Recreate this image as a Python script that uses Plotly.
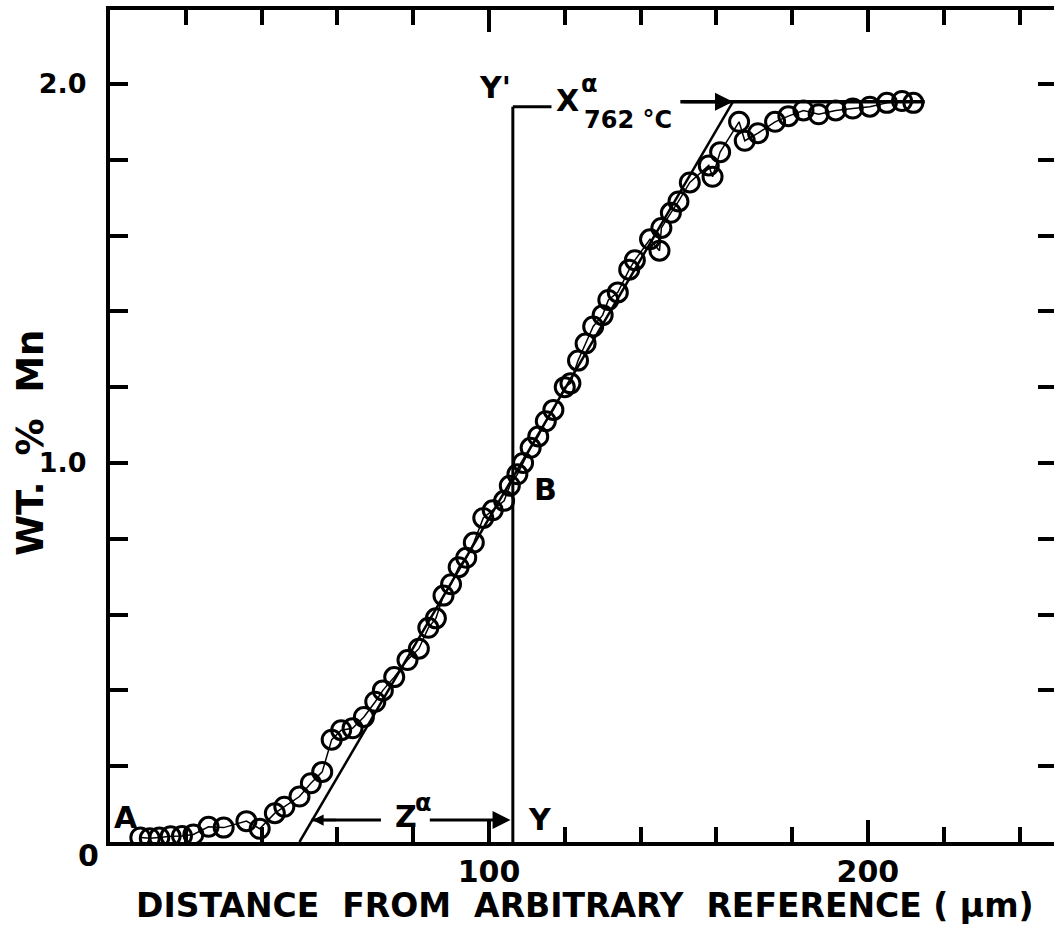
import plotly.graph_objects as go

# Measured Mn profile across the diffusion zone
distance_um = [8, 10.5, 13, 16, 19, 22, 26, 30, 36, 39.5, 43.5, 46, 50, 53, 56,
               58.5, 61, 64, 67, 70, 72, 75, 78.5, 81.5, 84, 86, 88, 90, 92, 94,
               96, 98.5, 101, 104, 105.5, 107.5, 109, 111, 113, 115, 117, 120,
               121.5, 123.5, 125.5, 127.5, 130, 131.5, 134, 137, 138.5, 142.5,
               145, 145.5, 148, 150, 153, 158, 159, 161, 166, 167.5, 171, 175.5,
               179, 183, 187, 191.5, 196, 200.5, 205, 209, 212]
wt_pct_mn = [0.012, 0.010, 0.012, 0.015, 0.016, 0.020, 0.040, 0.038, 0.055,
             0.035, 0.076, 0.093, 0.12, 0.155, 0.185, 0.27, 0.295, 0.30, 0.33,
             0.37, 0.40, 0.435, 0.48, 0.51, 0.565, 0.59, 0.65, 0.68, 0.725,
             0.75, 0.79, 0.855, 0.875, 0.90, 0.94, 0.97, 1.00, 1.04, 1.07,
             1.11, 1.14, 1.20, 1.21, 1.27, 1.315, 1.36, 1.39, 1.43, 1.45, 1.51,
             1.535, 1.59, 1.56, 1.62, 1.66, 1.69, 1.74, 1.785, 1.755, 1.82,
             1.90, 1.85, 1.87, 1.90, 1.915, 1.93, 1.92, 1.93, 1.935, 1.94,
             1.95, 1.955, 1.95]

# Construction lines
interface_x = 106.3          # Y-Y' plane
interface_top = 1.94
tangent_x = [50.0, 164.4]    # tangent through B
tangent_y = [0.0, 1.953]
x_alpha = 1.953              # equilibrium level X^alpha at 762 C
x_alpha_line_end = 215
z_level = 0.058              # Z^alpha arrow height

x_major = [100, 200]
x_major_text = ["100", "200"]
y_major = [1.0, 2.0]
y_major_text = ["1.0", "2.0"]

X_RANGE = [0, 249.1]
Y_RANGE = [0, 2.195]

FONT = "DejaVu Sans"
INK = "black"

fig = go.Figure()

fig.add_trace(go.Scatter(
    x=distance_um, y=wt_pct_mn, mode="lines+markers",
    line=dict(color=INK, width=1.5),
    marker=dict(symbol="circle-open", size=19, color=INK, line=dict(width=3)),
    showlegend=False, hoverinfo="skip",
))

# empty trace so the right-hand tick axis is drawn
fig.add_trace(go.Scatter(x=[], y=[], yaxis="y2", showlegend=False, hoverinfo="skip"))

# tangent line
fig.add_shape(type="line", x0=tangent_x[0], y0=tangent_y[0], x1=tangent_x[1], y1=tangent_y[1],
              line=dict(color=INK, width=2.5))
# Y - Y' plane
fig.add_shape(type="line", x0=interface_x, y0=0, x1=interface_x, y1=interface_top,
              line=dict(color=INK, width=3))
fig.add_shape(type="line", x0=interface_x, y0=interface_top, x1=116.5, y1=interface_top,
              line=dict(color=INK, width=3))
# X^alpha level
fig.add_shape(type="line", x0=150.5, y0=x_alpha, x1=x_alpha_line_end, y1=x_alpha,
              line=dict(color=INK, width=3.5))
fig.add_annotation(x=tangent_x[1], y=x_alpha, ax=151, ay=x_alpha, axref="x", ayref="y",
                   text="", showarrow=True, arrowhead=2, arrowsize=1.2, arrowwidth=3,
                   arrowcolor=INK)
# Z^alpha distance arrow
fig.add_shape(type="line", x0=tangent_x[0] + 3.2, y0=z_level, x1=71.5, y1=z_level,
              line=dict(color=INK, width=3))
fig.add_annotation(x=tangent_x[0] + 3.4, y=z_level, ax=60, ay=z_level, axref="x", ayref="y",
                   text="", showarrow=True, arrowhead=2, arrowsize=0.9, arrowwidth=2.5,
                   arrowcolor=INK)
fig.add_annotation(x=interface_x - 0.6, y=z_level, ax=84, ay=z_level, axref="x", ayref="y",
                   text="", showarrow=True, arrowhead=2, arrowsize=1.2, arrowwidth=3,
                   arrowcolor=INK)

label_font = dict(family=FONT, size=30, color=INK, weight="bold")
small_font = dict(family=FONT, size=24, color=INK, weight="bold")

fig.add_annotation(x=78, y=z_level + 0.01, text="Z", showarrow=False, font=label_font)
fig.add_annotation(x=82.6, y=z_level + 0.045, text="α", showarrow=False, font=small_font)
fig.add_annotation(x=4.2, y=0.065, text="A", showarrow=False, font=label_font)
fig.add_annotation(x=114.8, y=0.93, text="B", showarrow=False, font=label_font)
fig.add_annotation(x=113.5, y=0.06, text="Y", showarrow=False, font=label_font)
fig.add_annotation(x=101.5, y=1.99, text="Y'", showarrow=False, font=label_font)
fig.add_annotation(x=120.6, y=1.955, text="X", showarrow=False, font=label_font)
fig.add_annotation(x=126.6, y=2.0, text="α", showarrow=False, font=small_font)
fig.add_annotation(x=136.7, y=1.905, text="762 °C", showarrow=False, font=small_font)

# origin label and axis titles
fig.add_annotation(xref="paper", yref="paper", x=-0.0233, y=-0.016, text="0",
                   xanchor="center", yanchor="middle", showarrow=False,
                   font=dict(family=FONT, size=30, color=INK, weight="bold"))
fig.add_annotation(xref="paper", yref="paper", x=0.503, y=-0.076,
                   text="DISTANCE  FROM  ARBITRARY  REFERENCE ( μm)",
                   xanchor="center", yanchor="middle", showarrow=False,
                   font=dict(family=FONT, size=33, color=INK, weight="bold"))
fig.add_annotation(xref="paper", yref="paper", x=-0.0845, y=0.48, text="WT.  %  Mn",
                   textangle=-90, xanchor="center", yanchor="middle", showarrow=False,
                   font=dict(family=FONT, size=37, color=INK, weight="bold"))

fig.update_xaxes(
    range=X_RANGE, tickmode="array", tickvals=x_major, ticktext=x_major_text,
    ticks="inside", ticklen=22, tickwidth=4, tickcolor=INK,
    minor=dict(tickmode="linear", tick0=0, dtick=20, ticks="inside", ticklen=15,
               tickwidth=4, tickcolor=INK, showgrid=False),
    showline=True, linewidth=4, linecolor=INK, mirror="ticks",
    showgrid=False, zeroline=False,
    tickfont=dict(family=FONT, size=30, color=INK, weight="bold"),
)
fig.update_yaxes(
    range=Y_RANGE, tickmode="array", tickvals=y_major, ticktext=y_major_text,
    ticks="inside", ticklen=18, tickwidth=4, tickcolor=INK,
    minor=dict(tickmode="linear", tick0=0, dtick=0.2, ticks="inside", ticklen=18,
               tickwidth=4, tickcolor=INK, showgrid=False),
    showline=True, linewidth=4, linecolor=INK,
    showgrid=False, zeroline=False, ticklabelstandoff=14,
    tickfont=dict(family=FONT, size=27, color=INK, weight="bold"),
)
fig.update_layout(
    yaxis2=dict(overlaying="y", side="right", range=Y_RANGE, tickmode="linear",
                tick0=0, dtick=0.2, ticks="inside", ticklen=16, tickwidth=4,
                tickcolor=INK, showticklabels=False, showline=False,
                showgrid=False, zeroline=False),
    width=1054, height=934,
    margin=dict(l=110, r=0, t=10, b=92),
    paper_bgcolor="white", plot_bgcolor="white",
    showlegend=False,
)

fig.write_html("out.html")
